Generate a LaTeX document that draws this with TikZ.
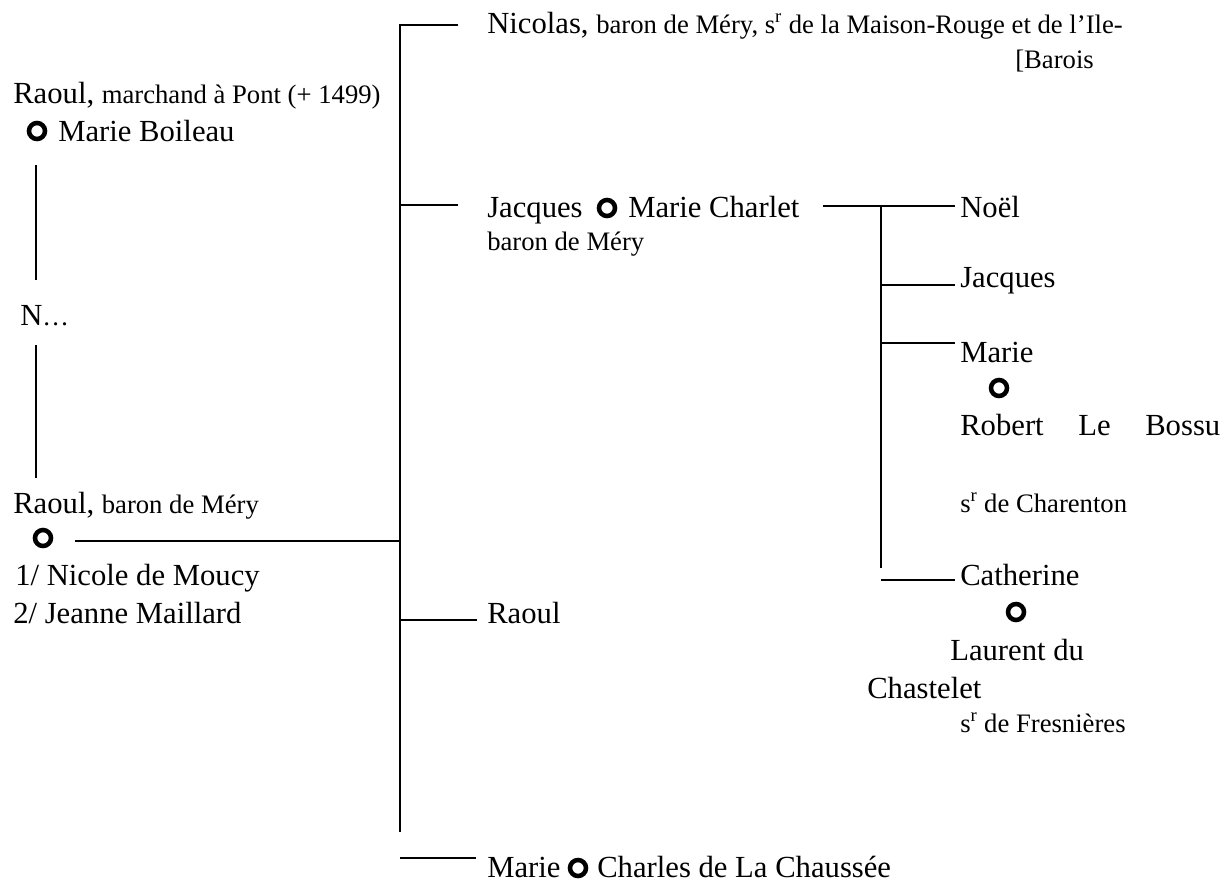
\documentclass[tikz,border=0pt]{standalone}
\usepackage{fontspec}
\setmainfont{Liberation Serif}
\usepackage{tikz}
\usetikzlibrary{positioning}

\newcommand{\petit}[1]{{\fontsize{20}{23}\selectfont #1}}
\newcommand{\sieur}{s\textsuperscript{r}}

\tikzset{
  person/.style={anchor=base west, inner sep=0pt, font=\fontsize{23}{27}\selectfont},
  ring/.style={draw, circle, line width=3.4pt, minimum size=12pt, inner sep=0pt},
  tree/.style={line width=1.9pt},
}

\begin{document}
\begin{tikzpicture}[x=0.75pt,y=-0.75pt]
\useasboundingbox (0,0) rectangle (1227,885);

% ascendants
\draw (13,103) node[person] (raoul1) {Raoul, \petit{marchand à Pont (+ 1499)}};
\draw (37,131) node[ring] (ring1) {};
\draw (58,141) node[person] (boileau) {Marie Boileau};
\draw (20,325) node[person] (nn) {N\petit{\dots}};
\draw (13,513) node[person] (raoul2) {Raoul, \petit{baron de Méry}};
\draw (43,538) node[ring] (ring2) {};
\draw (15,585) node[person] (moucy) {1/ Nicole de Moucy};
\draw (13,623) node[person] (maillard) {2/ Jeanne Maillard};

\coordinate (v1top) at (36,165);
\coordinate (v1bot) at (36,280);
\coordinate (v2top) at (36,345);
\coordinate (v2bot) at (36,478);
\coordinate (mar2) at (75,541);

\path[tree] (v1top) edge (v1bot);
\path[tree] (v2top) edge (v2bot);

% enfants
\coordinate (ttop) at (400,25);
\coordinate (tbot) at (400,832);
\coordinate (tmid) at (400,541);

\draw (487,33) node[person] (nicolas) {Nicolas, \petit{baron de Méry, \sieur\ de la Maison-Rouge et de l’Ile-}};
\draw (1015,68) node[person] (barois) {\petit{[Barois}};
\draw (487,217) node[person] (jacques) {Jacques};
\draw (607,208) node[ring] (ring3) {};
\draw (628,217) node[person] (charlet) {Marie Charlet};
\draw (487,250) node[person] (jbaron) {\petit{baron de Méry}};
\draw (487,623) node[person] (raoul3) {Raoul};
\draw (487,877) node[person] (marie1) {Marie};
\draw (578,868) node[ring] (ring4) {};
\draw (597,877) node[person] (chaussee) {Charles de La Chaussée};

\coordinate (b1) at (458,25);
\coordinate (b2a) at (400,205);
\coordinate (b2b) at (458,205);
\coordinate (b3a) at (400,620);
\coordinate (b3b) at (477,620);
\coordinate (b4a) at (400,858);
\coordinate (b4b) at (476,858);

\draw[tree] (b1) -- (ttop) -- (tbot);
\path[tree] (mar2) edge (tmid);
\path[tree] (b2a) edge (b2b);
\path[tree] (b3a) edge (b3b);
\path[tree] (b4a) edge (b4b);

% petits-enfants
\draw (960,217) node[person] (noel) {Noël};
\draw (960,287) node[person] (jacques2) {Jacques};
\draw (960,362) node[person] (marie2) {Marie};
\draw (999,388) node[ring] (ring5) {};
\draw (960,435) node[person] (bossu) {\makebox[195pt][s]{Robert Le Bossu}};
\draw (960,512) node[person] (charenton) {\petit{\sieur\ de Charenton}};
\draw (960,585) node[person] (catherine) {Catherine};
\draw (1016,612) node[ring] (ring6) {};
\draw (950,660) node[person] (laurent) {Laurent du};
\draw (867,698) node[person] (chastelet) {Chastelet};
\draw (960,732) node[person] (fresnieres) {\petit{\sieur\ de Fresnières}};

\coordinate (c0) at (823,206);
\coordinate (s1) at (881,206);
\coordinate (s2) at (881,285);
\coordinate (s3) at (881,343);
\coordinate (s4) at (881,580);
\coordinate (sbot) at (881,568);
\coordinate (e1) at (955,206);
\coordinate (e2) at (955,285);
\coordinate (e3) at (955,343);
\coordinate (e4) at (955,580);

\path[tree] (c0) edge (e1);
\path[tree] (s1) edge (sbot);
\path[tree] (s2) edge (e2);
\path[tree] (s3) edge (e3);
\path[tree] (s4) edge (e4);

\end{tikzpicture}
\end{document}
